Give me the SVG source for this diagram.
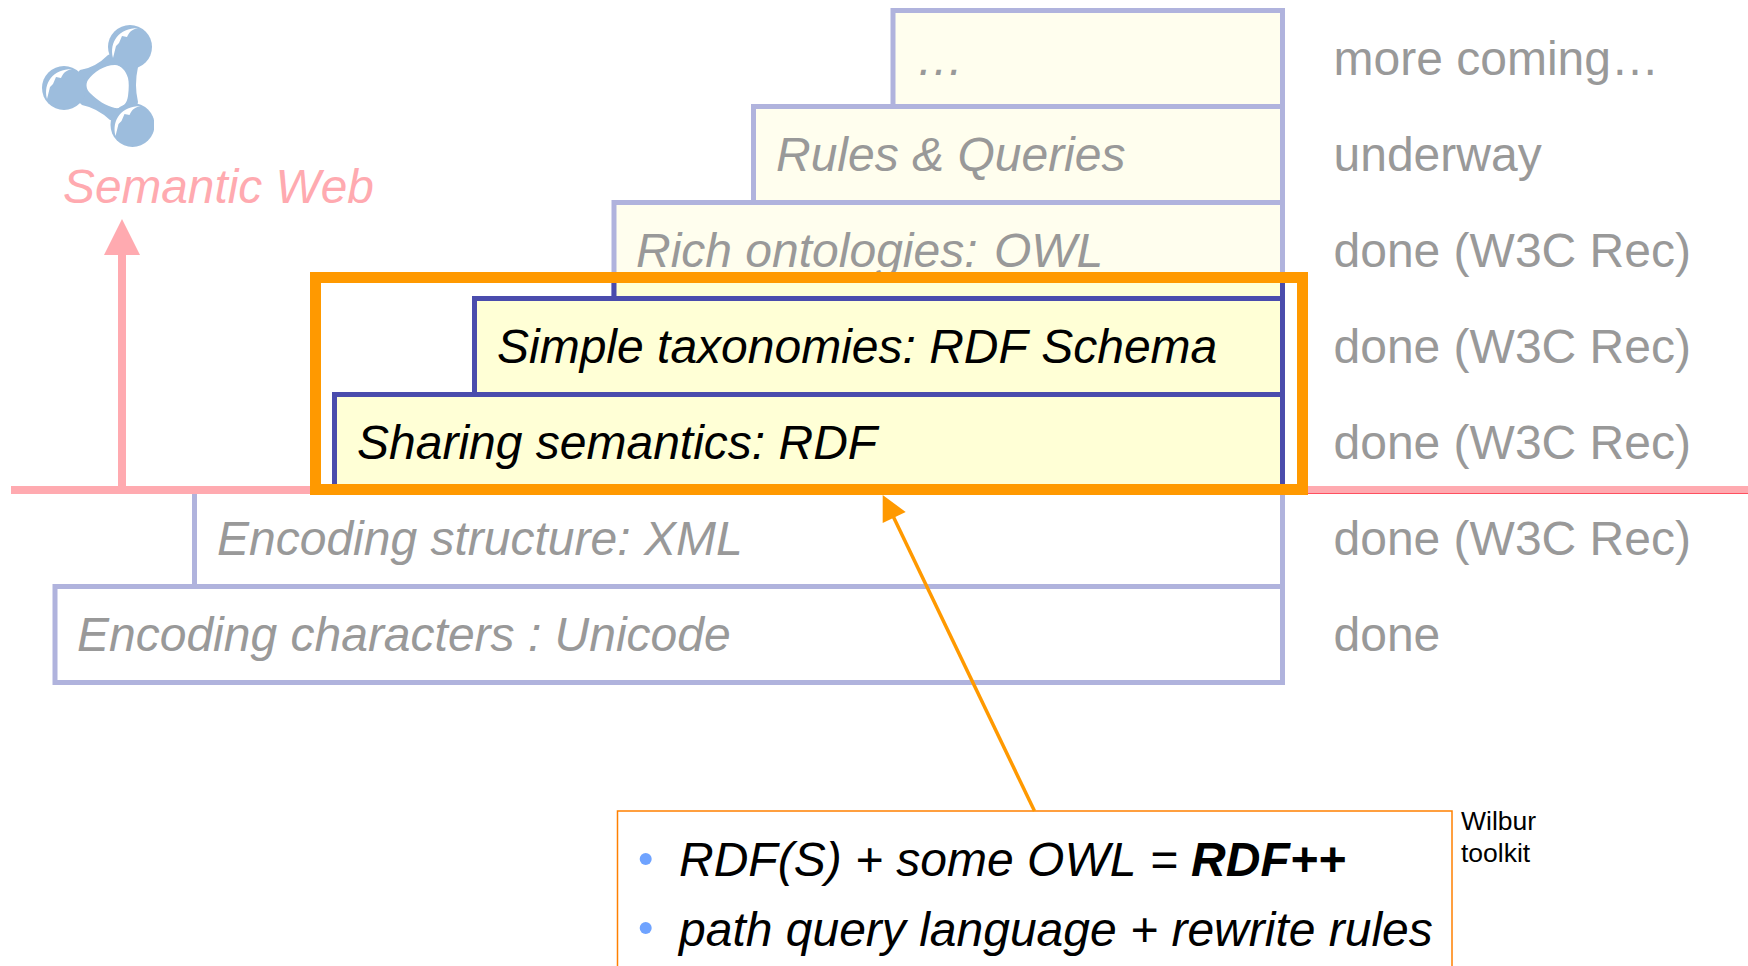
<svg xmlns="http://www.w3.org/2000/svg" width="1748" height="966" viewBox="0 0 1748 966">
<style>
text{font-family:"Liberation Sans",Arial,sans-serif;font-kerning:none}
.t{font-size:48px;font-style:italic}
.g{fill:#999999}
.k{fill:#000000}
.s{font-size:48px;fill:#999999}
.faded{fill:#FFFEEE;stroke:#B0B3DD;stroke-width:5}
.plain{fill:#FFFFFF;stroke:#B0B3DD;stroke-width:5}
.strong{fill:#FFFFD6;stroke:#4A4CAD;stroke-width:5}
.b{font-size:48px;font-style:italic;fill:#000}
.w{font-size:26.500px;fill:#000}
.blob{fill:#9DBDDD}
</style>
<defs>
<clipPath id="logoClip"><rect x="30" y="25" width="124" height="122"/></clipPath>
<path id="shine" fill="#FFFFFF" d="M113 58C109 42 119 28 138 28C130 30 129 33 127 37L122 36L119 43L116 46Z"/>
</defs>
<g id="logo" clip-path="url(#logoClip)">
<path class="blob" fill-rule="evenodd" d="M108 55Q95 68 80 70L64 88L82 105Q97 108 110 120L132 125L138 102Q134 85 138 67L130 47ZM115 65C104 65 94 72 88 80C85 85 87 90 90 93C97 100 106 106 115 108C122 109 127 104 128 96C129 88 129 82 128 78C126 71 121 65 115 65Z"/>
<circle class="blob" cx="130" cy="47" r="22"/>
<circle class="blob" cx="64" cy="88" r="22"/>
<circle class="blob" cx="132.500" cy="125" r="22"/>
<use href="#shine"/>
<use href="#shine" x="-66" y="41"/>
<use href="#shine" x="2.500" y="78"/>
</g>
<g id="semantic-web"><text x="63" y="203" class="t" style="fill:#FFAAB0;font-size:47.800px">Semantic Web</text></g>
<g id="layer-unicode"><rect class="plain" x="55" y="586.500" width="1227.500" height="96"/><text x="77" y="651" class="t g">Encoding characters : Unicode</text></g>
<g id="layer-xml"><rect class="plain" x="194.500" y="490.500" width="1088" height="96"/><text x="217" y="555" class="t g">Encoding structure: XML</text></g>
<g id="layer-etc"><rect class="faded" x="893" y="10.500" width="389.500" height="96"/><text x="916" y="75" class="t g">…</text></g>
<g id="layer-rules"><rect class="faded" x="753.500" y="106.500" width="529" height="96"/><text x="776" y="171" class="t g">Rules &amp; Queries</text></g>
<g id="layer-owl"><rect class="faded" x="614" y="202.500" width="668.500" height="96"/><rect class="strong" x="614" y="277" width="668.500" height="21.500"/><text x="636" y="267" class="t g">Rich ontologies: <tspan dx="3">OWL</tspan></text></g>
<g id="layer-rdfs"><rect class="strong" x="474.500" y="298.500" width="808" height="96"/><text x="497" y="363" class="t k">Simple taxonomies: RDF Schema</text></g>
<g id="layer-rdf"><rect class="strong" x="334.500" y="394.500" width="948" height="96"/><text x="357" y="459" class="t k">Sharing semantics: RDF</text></g>
<g id="status">
<text x="1333.500" y="75" class="s">more coming…</text>
<text x="1333.500" y="171" class="s">underway</text>
<text x="1333.500" y="267" class="s">done (W3C Rec)</text>
<text x="1333.500" y="363" class="s">done (W3C Rec)</text>
<text x="1333.500" y="459" class="s">done (W3C Rec)</text>
<text x="1333.500" y="555" class="s">done (W3C Rec)</text>
<text x="1333.500" y="651" class="s">done</text>
</g>
<g id="connectors">
<rect x="11" y="486" width="1737" height="8" fill="#FFAAB0"/>
<rect x="1308" y="493" width="440" height="1" fill="#FF5060"/>
<rect x="118" y="250" width="8" height="240" fill="#FFAAB0"/>
<polygon points="122,219 140,255 104,255" fill="#FFAAB0"/>
</g>
<g id="highlight"><rect x="315.500" y="277.500" width="987" height="212" fill="none" stroke="#FF9900" stroke-width="11"/></g>
<g id="callout">
<rect x="617.500" y="811" width="834.500" height="200" fill="#FFFFFF" stroke="#FF8000" stroke-width="1.500"/>
<circle cx="645.700" cy="859" r="6" fill="#6FA3FF"/>
<circle cx="645.700" cy="928" r="6" fill="#6FA3FF"/>
<text x="679" y="876" class="b">RDF(S) + some OWL = <tspan font-weight="bold">RDF++</tspan></text>
<text x="679" y="946" class="b">path query language + rewrite rules</text>
</g>
<g id="callout-arrow">
<line x1="1034.500" y1="811" x2="893" y2="516" stroke="#FF9900" stroke-width="3.500"/>
<polygon points="882.700,495 905.700,512 882.700,523" fill="#FF9900"/>
</g>
<g id="wilbur">
<text x="1461" y="830" class="w">Wilbur</text>
<text x="1461" y="862" class="w">toolkit</text>
</g>
</svg>
